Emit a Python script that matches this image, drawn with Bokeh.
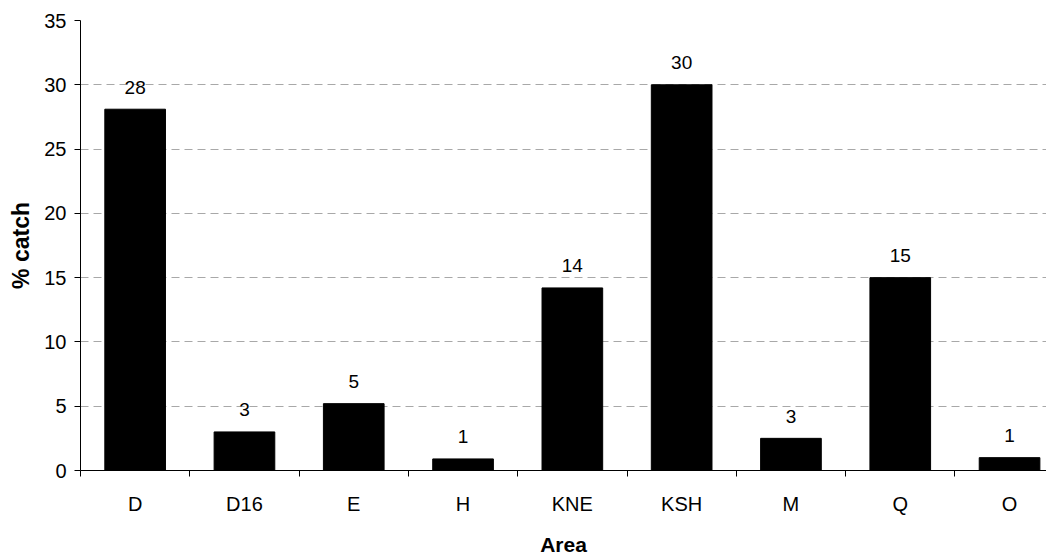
from bokeh.plotting import figure
from bokeh.models import ColumnDataSource, FixedTicker, Range1d
from bokeh.core.properties import value
from bokeh.embed import file_html
from bokeh.resources import INLINE

areas = ["D", "D16", "E", "H", "KNE", "KSH", "M", "Q", "O"]
catch = [28.1, 3.0, 5.2, 0.9, 14.2, 30.0, 2.5, 15.0, 1.0]
labels = ["28", "3", "5", "1", "14", "30", "3", "15", "1"]
yticks = [0, 5, 10, 15, 20, 25, 30, 35]

xpos = list(range(len(areas)))
src = ColumnDataSource(dict(x=xpos, top=catch, label=labels))

FONT = "Liberation Sans"

p = figure(width=1046, height=558, output_backend="svg", toolbar_location=None,
           x_range=Range1d(-0.5, 8.338), y_range=Range1d(0, 35),
           min_border_left=80, min_border_right=0, min_border_top=20,
           min_border_bottom=86)

p.vbar(x="x", top="top", width=0.555, fill_color="black", line_color="black",
       line_width=1, source=src)
p.text(x="x", y="top", text="label", source=src, y_offset=-22,
       text_align="center", text_baseline="middle", text_font=value(FONT),
       text_font_size="19px", text_color="black")

p.outline_line_color = None
p.xgrid.grid_line_color = None
p.ygrid.ticker = FixedTicker(ticks=yticks)
p.ygrid.grid_line_color = "#a8a8a8"
p.ygrid.grid_line_dash = "8 5"
p.ygrid.grid_line_width = 1

# y axis
p.yaxis.ticker = FixedTicker(ticks=yticks)
p.yaxis.minor_tick_line_color = None
p.yaxis.major_tick_in = 0
p.yaxis.major_tick_out = 6
p.yaxis.major_tick_line_color = "black"
p.yaxis.axis_line_color = "black"
p.yaxis.major_label_standoff = 8
p.yaxis.major_label_text_font = FONT
p.yaxis.major_label_text_font_size = "20px"
p.yaxis.major_label_text_color = "black"
p.yaxis.axis_label = "% catch"
p.yaxis.axis_label_text_font = FONT
p.yaxis.axis_label_text_font_size = "23px"
p.yaxis.axis_label_text_font_style = "bold"
p.yaxis.axis_label_text_color = "black"
p.yaxis.axis_label_standoff = 7

# x axis
p.xaxis.ticker = FixedTicker(ticks=xpos, minor_ticks=[i - 0.5 for i in range(len(areas) + 1)])
p.xaxis.major_label_overrides = {i: a for i, a in zip(xpos, areas)}
p.xaxis.major_tick_in = 0
p.xaxis.major_tick_out = 0
p.xaxis.minor_tick_in = 0
p.xaxis.minor_tick_out = 6
p.xaxis.minor_tick_line_color = "black"
p.xaxis.axis_line_color = "black"
p.xaxis.major_label_standoff = 16
p.xaxis.major_label_text_font = FONT
p.xaxis.major_label_text_font_size = "20px"
p.xaxis.major_label_text_color = "black"
p.xaxis.axis_label = "Area"
p.xaxis.axis_label_text_font = FONT
p.xaxis.axis_label_text_font_size = "21px"
p.xaxis.axis_label_text_font_style = "bold"
p.xaxis.axis_label_text_color = "black"
p.xaxis.axis_label_standoff = 15

open("out.html", "w").write(file_html(p, INLINE))
